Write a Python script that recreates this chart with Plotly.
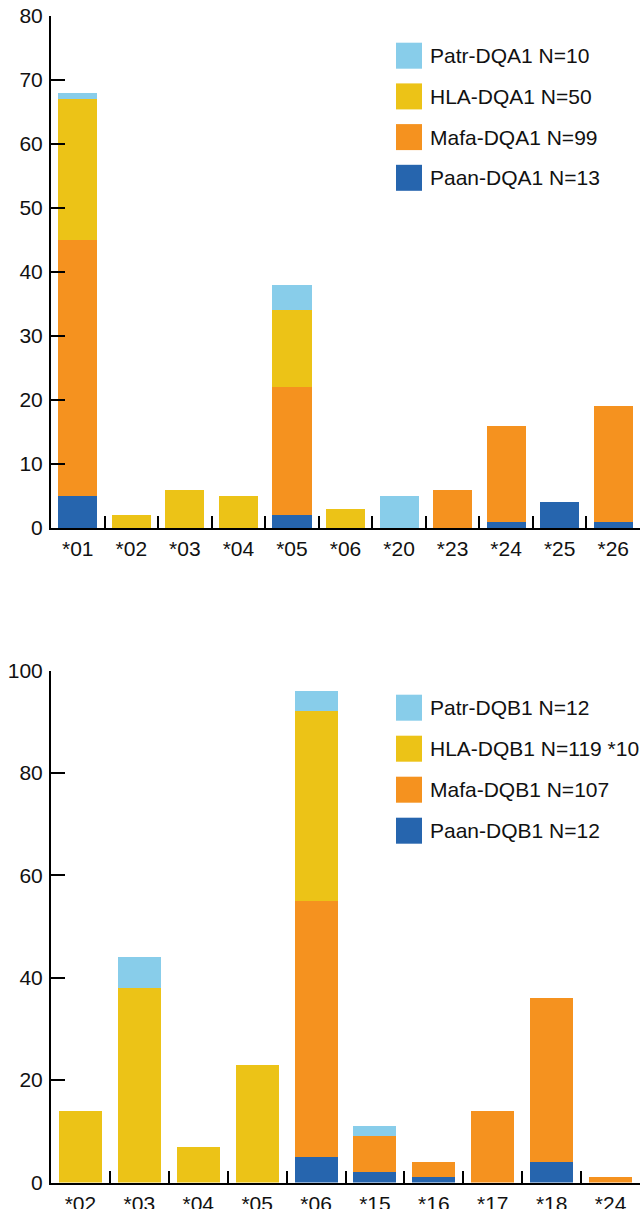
import plotly.graph_objects as go
from plotly.subplots import make_subplots

# ---- Data: DQA1 (top) ----
dqa_categories = ["*01", "*02", "*03", "*04", "*05", "*06", "*20", "*23", "*24", "*25", "*26"]
dqa_paan = [5, 0, 0, 0, 2, 0, 0, 0, 1, 4, 1]
dqa_mafa = [40, 0, 0, 0, 20, 0, 0, 6, 15, 0, 18]
dqa_hla = [22, 2, 6, 5, 12, 3, 0, 0, 0, 0, 0]
dqa_patr = [1, 0, 0, 0, 4, 0, 5, 0, 0, 0, 0]
dqa_legend = ["Patr-DQA1 N=10", "HLA-DQA1 N=50", "Mafa-DQA1 N=99", "Paan-DQA1 N=13"]
dqa_yticks = [0, 10, 20, 30, 40, 50, 60, 70, 80]

# ---- Data: DQB1 (bottom) ----
dqb_categories = ["*02", "*03", "*04", "*05", "*06", "*15", "*16", "*17", "*18", "*24"]
dqb_paan = [0, 0, 0, 0, 5, 2, 1, 0, 4, 0]
dqb_mafa = [0, 0, 0, 0, 50, 7, 3, 14, 32, 1]
dqb_hla = [14, 38, 7, 23, 37, 0, 0, 0, 0, 0]
dqb_patr = [0, 6, 0, 0, 4, 2, 0, 0, 0, 0]
dqb_legend = ["Patr-DQB1 N=12", "HLA-DQB1 N=119 *10", "Mafa-DQB1 N=107", "Paan-DQB1 N=12"]
dqb_yticks = [0, 20, 40, 60, 80, 100]

# ---- Style ----
C_PATR = "#88CDEA"
C_HLA = "#ECC317"
C_MAFA = "#F5921F"
C_PAAN = "#2665AE"
FONT = "Arial, Liberation Sans, sans-serif"
FS = 21

W, H = 640, 1209
ML, MR, MT, MB = 51, 0, 16, 26
PW, PH = W - ML - MR, H - MT - MB

fig = make_subplots(rows=2, cols=1, vertical_spacing=0.0)

def add_stack(cats, paan, mafa, hla, patr, row):
    for vals, col in ((paan, C_PAAN), (mafa, C_MAFA), (hla, C_HLA), (patr, C_PATR)):
        fig.add_trace(go.Bar(x=cats, y=vals, marker=dict(color=col, line=dict(width=0)),
                             showlegend=False), row=row, col=1)

add_stack(dqa_categories, dqa_paan, dqa_mafa, dqa_hla, dqa_patr, 1)
add_stack(dqb_categories, dqb_paan, dqb_mafa, dqb_hla, dqb_patr, 2)

def px_x(px):
    return (px - ML) / PW

def px_y(py):
    return (H - MB - py) / PH

def clamp(v):
    return min(1.0, max(0.0, v))

top_dom = [clamp(px_y(528)), clamp(px_y(16))]
bot_dom = [clamp(px_y(1182.5)), clamp(px_y(670.5))]

axis_common = dict(showline=True, linecolor="#000000", linewidth=2, ticks="inside",
                   tickcolor="#000000", tickwidth=2, showgrid=False, zeroline=False,
                   automargin=False,
                   tickfont=dict(family=FONT, size=FS, color="#111111"))

fig.update_layout(
    width=W, height=H, barmode="stack", bargap=0.27,
    plot_bgcolor="white", paper_bgcolor="white",
    margin=dict(l=ML, r=MR, t=MT, b=MB, autoexpand=False),
    showlegend=False,
    xaxis=dict(**axis_common, type="category", range=[-0.5, len(dqa_categories) - 0.5],
               tickson="boundaries", ticklen=12, anchor="y", ticklabelstandoff=1),
    yaxis=dict(**axis_common, domain=top_dom, range=[0, 80], tickvals=dqa_yticks,
               ticklen=14, anchor="x", ticklabelstandoff=2),
    xaxis2=dict(**axis_common, type="category", range=[-0.5, len(dqb_categories) - 0.5],
                tickson="boundaries", ticklen=12, anchor="y2", ticklabelstandoff=1),
    yaxis2=dict(**axis_common, domain=bot_dom, range=[0, 100], tickvals=dqb_yticks,
                ticklen=14, anchor="x2", ticklabelstandoff=2),
)

# Manual legends (large square swatches)
def add_legend(labels, colors, first_center_y, spacing):
    for i, (lab, col) in enumerate(zip(labels, colors)):
        cy = first_center_y + i * spacing
        fig.add_shape(type="rect", xref="paper", yref="paper",
                      x0=px_x(396), x1=px_x(422), y0=px_y(cy + 13), y1=px_y(cy - 13),
                      fillcolor=col, line=dict(width=0))
        fig.add_annotation(xref="paper", yref="paper", x=px_x(428), y=px_y(cy),
                           text=lab, showarrow=False, xanchor="left", yanchor="middle",
                           font=dict(family=FONT, size=FS, color="#111111"))

legend_colors = [C_PATR, C_HLA, C_MAFA, C_PAAN]
add_legend(dqa_legend, legend_colors, 55.7, 40.7)
add_legend(dqb_legend, legend_colors, 707.7, 41.0)

fig.write_html("out.html", config={"displayModeBar": False},
               post_script="document.body.style.margin='0';")
